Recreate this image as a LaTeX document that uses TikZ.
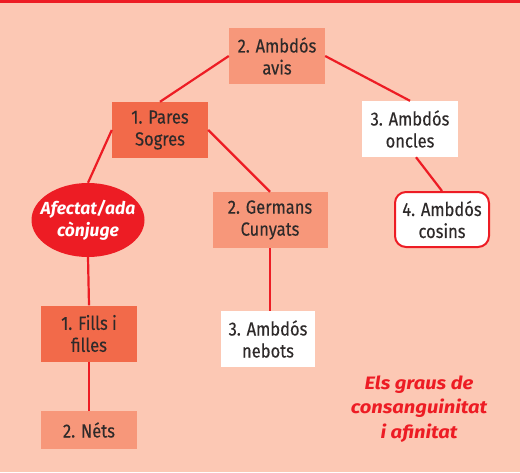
\documentclass[tikz,border=0pt]{standalone}
\usepackage{fontspec}
\setmainfont{Fira Sans}[FakeStretch=0.87,FakeBold=0.25]
\newfontfamily\widefont{Fira Sans}[FakeStretch=1.12]
\newfontfamily\plainfont{Fira Sans}
\usetikzlibrary{shapes.geometric,calc}
\definecolor{bg}{HTML}{FCC8B4}
\definecolor{lightbox}{HTML}{F7977A}
\definecolor{darkbox}{HTML}{F26A4A}
\definecolor{myred}{HTML}{ED1C24}
\definecolor{txt}{HTML}{2E2A2A}
\begin{document}
\begin{tikzpicture}[x=1pt,y=-1pt,
  base/.style={rectangle, inner sep=0pt, align=center, minimum width=96pt, minimum height=56pt,
    font=\fontsize{19}{22}\selectfont, text=txt},
  lightb/.style={base, fill=lightbox},
  darkb/.style={base, fill=darkbox},
  whiteb/.style={base, fill=white},
  roundb/.style={base, fill=white, draw=myred, line width=2pt, rounded corners=11pt, minimum width=94pt, minimum height=55pt},
  redell/.style={ellipse, fill=myred, inner xsep=-8pt, inner ysep=0pt, minimum width=113pt, minimum height=74pt, align=center,
    text=white, font=\plainfont\fontsize{17.5}{22}\bfseries\itshape\selectfont},
  conn/.style={draw=myred, line width=2.2pt},
  title/.style={align=center, text=myred, font=\widefont\fontsize{18}{24.5}\bfseries\itshape\selectfont}]
\fill[bg] (0,0) rectangle (520,472);
\fill[myred] (0,0) rectangle (520,3);
\node[lightb] (avis) at (277,56) {2. Ambdós\\avis};
\node[darkb] (pares) at (160,130) {1. Pares\\Sogres};
\node[whiteb] (oncles) at (410,129) {3. Ambdós\\oncles};
\node[redell] (afect) at (88,220) {Afectat/ada\\cònjuge};
\node[lightb, minimum width=115pt] (germans) at (270,220) {2. Germans\\Cunyats};
\node[roundb] (cosins) at (442,219.5) {4. Ambdós\\cosins};
\node[whiteb, minimum width=94pt] (nebots) at (268,339) {3. Ambdós\\nebots};
\node[darkb] (fills) at (89,333.5) {1. Fills i\\filles};
\node[lightb, minimum height=38pt] (nets) at (89,430) {2. Néts};
\node[title] (tit) at (419,409) {Els graus de\\consanguinitat\\i afinitat};
\draw[conn] (avis.west) -- (pares.north);
\draw[conn] (avis.east) -- (oncles.north);
\draw[conn] (pares.west) -- (afect.north);
\draw[conn] (pares.east) -- (germans.north);
\draw[conn] ($(oncles.south)+(6,0)$) -- (cosins.north);
\draw[conn] (germans.south) -- (nebots.north -| germans.south);
\draw[conn] (afect.south) -- (fills.north);
\draw[conn] (fills.south) -- (nets.north);
\end{tikzpicture}
\end{document}
